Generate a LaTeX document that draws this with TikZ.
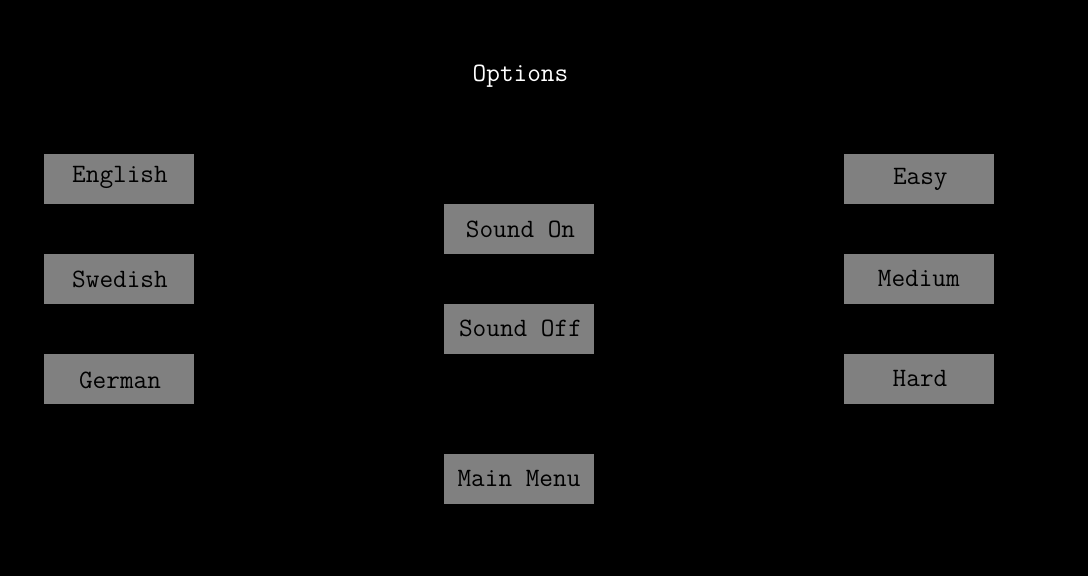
\documentclass[tikz,border=0pt]{standalone}
\usepackage{fontspec}
\begin{document}
\begin{tikzpicture}[x=1pt,y=-1pt,
  btn/.style={fill=btngray,draw=none,minimum width=150pt,minimum height=50pt,inner sep=0pt,outer sep=0pt},
  lbl/.style={anchor=base,inner sep=0pt,font=\ttfamily\fontsize{26.5}{30}\selectfont,text=black},
  ttl/.style={lbl,text=white}]
\definecolor{btngray}{HTML}{808080}
\useasboundingbox[fill=black] (0,0) rectangle (1088,576);
% title
\node[ttl] (title) at (520.5,81.7) {Options};
% language column
\node[btn] (english) at (119,179) {};
\node[btn] (swedish) at (119,279) {};
\node[btn] (german)  at (119,379) {};
\node[lbl] (englishT) at (120,182.7) {English};
\node[lbl] (swedishT) at (120,287.3) {Swedish};
\node[lbl] (germanT)  at (120,388.3) {German};
% sound column
\node[btn] (soundon)  at (519,229) {};
\node[btn] (soundoff) at (519,329) {};
\node[btn] (mainmenu) at (519,479) {};
\node[lbl] (soundonT)  at (520.5,237) {Sound On};
\node[lbl] (soundoffT) at (520.5,336.7) {Sound Off};
\node[lbl] (mainmenuT) at (519,486.7) {Main Menu};
% difficulty column
\node[btn] (easy)   at (919,179) {};
\node[btn] (medium) at (919,279) {};
\node[btn] (hard)   at (919,379) {};
\node[lbl] (easyT)   at (920.3,184.3) {Easy};
\node[lbl] (mediumT) at (918.8,286.7) {Medium};
\node[lbl] (hardT)   at (920,386.7) {Hard};
\end{tikzpicture}
\end{document}
